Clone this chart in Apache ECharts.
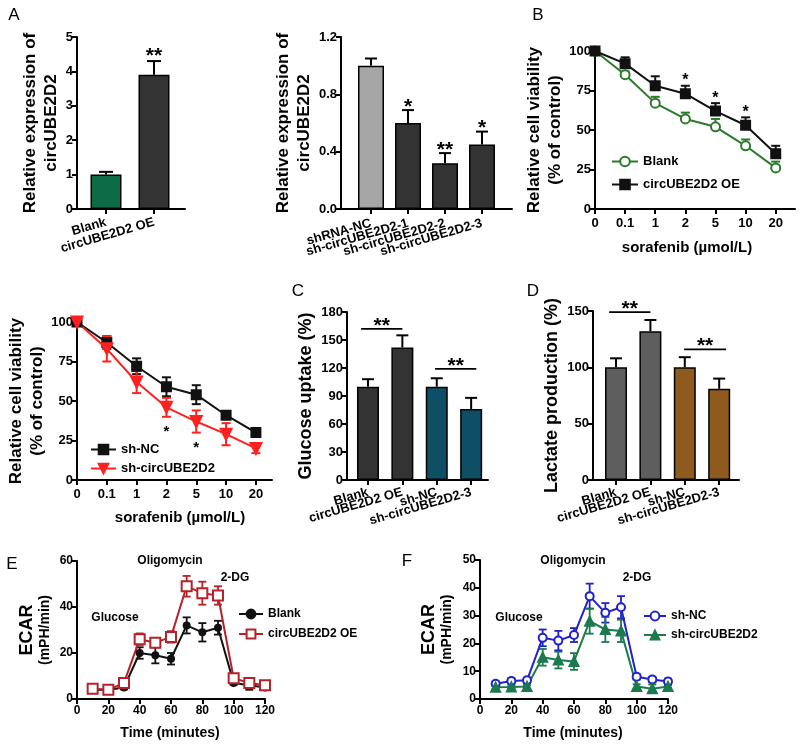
<!DOCTYPE html>
<html><head><meta charset="utf-8">
<script src="https://cdn.jsdelivr.net/npm/echarts@6/dist/echarts.min.js"></script>
<style>html,body{margin:0;padding:0;background:#fff}#c{width:800px;height:746px}</style>
</head><body><div id="c"></div><script>
const FF = '"Liberation Sans", Arial, Helvetica, sans-serif';

// ---------------- data ----------------
const a1Cats = ['Blank', 'circUBE2D2 OE'];
const a1Vals = [1.0, 3.9];
const a1Errs = [0.08, 0.4];
const a1Stars = ['', '**'];
const a1Colors = ['#0e6b47', '#333333'];

const a2Cats = ['shRNA-NC', 'sh-circUBE2D2-1', 'sh-circUBE2D2-2', 'sh-circUBE2D2-3'];
const a2Vals = [1.0, 0.6, 0.32, 0.45];
const a2Errs = [0.05, 0.09, 0.07, 0.09];
const a2Stars = ['', '*', '**', '*'];
const a2Colors = ['#a6a6a6', '#333333', '#333333', '#333333'];

const doses = ['0', '0.1', '1', '2', '5', '10', '20'];
const bBlank = [100, 85, 67, 57, 52, 40, 26];
const bBlankErr = [0, 2, 4, 4, 5, 4, 4];
const bOE = [100, 92, 78, 73, 62, 53, 35];
const bOEErr = [0, 4, 6, 5, 5, 5, 5];
const bStars = ['', '', '', '*', '*', '*', ''];

const b2NC = [100, 87, 72, 59, 54, 41, 30];
const b2NCErr = [0, 4, 5, 6, 6, 2, 2];
const b2Sh = [100, 83, 62, 46, 37, 29, 20];
const b2ShErr = [0, 8, 7, 6, 7, 7, 3];
const b2Stars = ['', '', '', '*', '*', '', ''];

const cdCats = ['Blank', 'circUBE2D2 OE', 'sh-NC', 'sh-circUBE2D2-3'];
const cVals = [100, 142, 100, 76];
const cErrs = [8, 13, 9, 12];
const cColors = ['#333333', '#333333', '#0f4f66', '#0f4f66'];
const cBrackets = [[-0.2, 1.0, 162], [1.95, 3.15, 119]];
const cBracketText = ['**', '**'];
const dVals = [100, 132, 100, 81];
const dErrs = [8, 10, 9, 9];
const dColors = ['#5e5e5e', '#5e5e5e', '#8e5a1e', '#8e5a1e'];
const dBrackets = [[-0.2, 1.0, 149], [1.98, 3.2, 116]];
const dBracketText = ['**', '**'];

const times = [10, 20, 30, 40, 50, 60, 70, 80, 90, 100, 110, 120];
const eBlank = [4, 4, 5, 20, 19, 17.5, 32, 29, 31, 7, 6, 5];
const eBlankErr = [0.5, 0.5, 0.8, 2.5, 3.5, 2.5, 3.5, 4, 3, 0.8, 2, 0.8];
const eOE = [4.5, 4, 7, 26, 24.5, 27, 49, 46, 45, 9, 7, 6];
const eOEErr = [0.8, 0.8, 1, 2.5, 2, 2.5, 4.5, 5, 4, 1, 1.5, 0.8];
const fNC = [5.5, 6.5, 6.7, 22, 21, 23, 37, 31, 33, 8, 7, 6.3];
const fNCErr = [0.8, 1, 1, 3, 3.5, 2.5, 4.5, 3.5, 4, 1, 1, 1];
const fSh = [4.2, 4.3, 4.5, 15, 14, 13.5, 28, 25, 24.5, 4.5, 3.7, 4.5];
const fShErr = [0.5, 0.5, 0.5, 3, 3, 3, 4.5, 4.5, 4, 0.8, 1.5, 0.5];

// ---------------- helpers ----------------
const idx = arr => arr.map((_, i) => i);
const pairs = (xs, ys) => xs.map((x, i) => [x, ys[i]]);
const triples = (xs, ys, es) => xs.map((x, i) => [x, ys[i], es[i]]);

const axLine = { show: true, onZero: false, lineStyle: { color: '#000', width: 2 } };
const tick = (extra) => Object.assign({ show: true, length: 5, lineStyle: { color: '#000', width: 2 } }, extra || {});
const lbl = (fs, extra) => Object.assign({ color: '#000', fontFamily: FF, fontWeight: 'bold', fontSize: fs, margin: 4 }, extra || {});

function yAx(gi, min, max, interval, name, gap, nameFs, fs, extra) {
  return Object.assign({
    type: 'value', gridIndex: gi, min, max, interval,
    name, nameLocation: 'middle', nameGap: gap, nameRotate: 90,
    nameTextStyle: { color: '#000', fontFamily: FF, fontWeight: 'bold', fontSize: nameFs, lineHeight: Math.round(nameFs * 1.22) },
    axisLine: axLine, axisTick: tick(), axisLabel: lbl(fs, { showMinLabel: true, showMaxLabel: true }), splitLine: { show: false }
  }, extra || {});
}
// value axis carrying the bars, line and ticks (labels drawn by a matching category axis)
function xBarAx(gi, min, max, n) {
  return {
    type: 'value', gridIndex: gi, min, max,
    axisLine: axLine, axisTick: tick({ customValues: idx(Array(n).fill(0)) }),
    axisLabel: { show: false }, splitLine: { show: false }
  };
}
// label-only category axis on an invisible grid aligned with bar centres
function xLblAx(gi, cats, rotate, fs, margin) {
  return {
    type: 'category', gridIndex: gi, data: cats, boundaryGap: true,
    axisLine: { show: false }, axisTick: { show: false },
    axisLabel: lbl(fs, { interval: 0, rotate, margin }), splitLine: { show: false }
  };
}
function xNumAx(gi, min, max, interval, fs) {
  return {
    type: 'value', gridIndex: gi, min, max, interval,
    axisLine: axLine, axisTick: tick(), axisLabel: lbl(fs, { margin: 6, showMinLabel: true, showMaxLabel: true }), splitLine: { show: false }
  };
}
function barSeries(gi, vals, colors, width) {
  return {
    type: 'bar', xAxisIndex: gi, yAxisIndex: gi, barWidth: width, silent: true, z: 2,
    data: vals.map((v, i) => ({ value: [i, v], itemStyle: { color: colors[i], borderColor: '#000', borderWidth: 1.5 } }))
  };
}
function errSeries(gi, pts, dir, color, cap, lw, z) {
  return {
    type: 'custom', xAxisIndex: gi, yAxisIndex: gi, silent: true, z: z || 3, data: pts,
    renderItem: (p, api) => {
      const x = api.value(0), v = api.value(1), e = api.value(2);
      if (!e) return null;
      const c = api.coord([x, v]);
      const up = api.coord([x, v + e])[1];
      const dn = api.coord([x, v - e])[1];
      const y1 = dir === 'down' ? c[1] : up;
      const y2 = dir === 'up' ? c[1] : dn;
      const st = { stroke: color, lineWidth: lw };
      const ch = [{ type: 'line', shape: { x1: c[0], y1, x2: c[0], y2 }, style: st }];
      if (dir !== 'down') ch.push({ type: 'line', shape: { x1: c[0] - cap / 2, y1: up, x2: c[0] + cap / 2, y2: up }, style: st });
      if (dir !== 'up') ch.push({ type: 'line', shape: { x1: c[0] - cap / 2, y1: dn, x2: c[0] + cap / 2, y2: dn }, style: st });
      return { type: 'group', children: ch };
    }
  };
}
function starSeries(gi, pts, texts, fs, offset, below) {
  return {
    type: 'custom', xAxisIndex: gi, yAxisIndex: gi, silent: true, z: 5, data: pts,
    renderItem: (p, api) => {
      const t = texts[p.dataIndex];
      if (!t) return null;
      const c = api.coord([api.value(0), api.value(1)]);
      const yc = below ? c[1] + offset : c[1] - offset;
      return { type: 'text', x: c[0], y: yc + 0.27 * fs,
        style: { text: t, fill: '#000', fontFamily: FF, fontWeight: 'bold', fontSize: fs, align: 'center', verticalAlign: 'middle' } };
    }
  };
}
function bracketSeries(gi, br, texts, fs, offset) {
  return {
    type: 'custom', xAxisIndex: gi, yAxisIndex: gi, silent: true, z: 5, data: br,
    renderItem: (p, api) => {
      const a = api.coord([api.value(0), api.value(2)]);
      const b = api.coord([api.value(1), api.value(2)]);
      return { type: 'group', children: [
        { type: 'line', shape: { x1: a[0], y1: a[1], x2: b[0], y2: b[1] }, style: { stroke: '#000', lineWidth: 1.8 } },
        { type: 'text', x: (a[0] + b[0]) / 2, y: a[1] - offset + 0.27 * fs,
          style: { text: texts[p.dataIndex], fill: '#000', fontFamily: FF, fontWeight: 'bold', fontSize: fs, align: 'center', verticalAlign: 'middle' } }
      ] };
    }
  };
}
function lineSeries(gi, name, pts, color, symbol, size, extra) {
  return Object.assign({
    type: 'line', name, xAxisIndex: gi, yAxisIndex: gi, data: pts, z: 4,
    symbol, symbolSize: size, showAllSymbol: true,
    lineStyle: { color, width: 2 }, itemStyle: { color, borderColor: color, borderWidth: 2 }
  }, extra || {});
}
function legend(left, top, names, fs, iw, ih, gap) {
  return {
    left, top, orient: 'vertical', itemWidth: iw, itemHeight: ih, itemGap: gap, selectedMode: false,
    data: names, formatter: n => n.replace(/ #.*$/, ''),
    textStyle: { color: '#000', fontFamily: FF, fontWeight: 'bold', fontSize: fs }
  };
}
const txt = (x, y, text, fs, bold, align) => ({
  type: 'text', x, y, silent: true,
  style: { text, fill: '#000', fontFamily: FF, fontWeight: bold ? 'bold' : 'normal', fontSize: fs, align: align || 'center', verticalAlign: 'middle' }
});

// ---------------- layout ----------------
const grids = [
  { left: 77, top: 37, width: 108, height: 172 },   // 0 A1
  { left: 341, top: 37, width: 171, height: 172 },  // 1 A2
  { left: 595, top: 51, width: 200, height: 158 },  // 2 B
  { left: 77, top: 322, width: 195, height: 158 },  // 3 B2
  { left: 347, top: 312, width: 141, height: 168 }, // 4 C
  { left: 593, top: 311, width: 146, height: 169 }, // 5 D
  { left: 77, top: 561, width: 188, height: 138 },  // 6 E
  { left: 480, top: 560, width: 188, height: 139 }  // 7 F
];
// bar-panel x ranges (axis min/max in bar-index units)
const barRanges = { 0: [-0.604, 1.646], 1: [-0.811, 3.811], 4: [-0.61, 3.49], 5: [-0.669, 3.576] };
const barCats = { 0: a1Cats, 1: a2Cats, 4: cdCats, 5: cdCats };
// label grids 8..11, aligned so category band centres fall on the bars
[0, 1, 4, 5].forEach(gi => {
  const g = grids[gi], [mn, mx] = barRanges[gi], n = barCats[gi].length;
  const unit = g.width / (mx - mn);
  const c0 = g.left + (0 - mn) * unit;
  grids.push({ left: c0 - unit / 2, top: g.top, width: unit * n, height: g.height });
});

const ecarName = '{a|ECAR}\n{b|(mPH/min)}';
const ecarRich = { a: { fontSize: 18, fontWeight: 'bold', fontFamily: FF, color: '#000', lineHeight: 19 },
                   b: { fontSize: 14, fontWeight: 'bold', fontFamily: FF, color: '#000', lineHeight: 17 } };

const xAxis = [
  xBarAx(0, barRanges[0][0], barRanges[0][1], a1Cats.length),
  xBarAx(1, barRanges[1][0], barRanges[1][1], a2Cats.length),
  { type: 'value', gridIndex: 2, min: 0, max: 6.64, axisLine: axLine, axisTick: tick({ customValues: idx(doses) }),
    axisLabel: lbl(13, { customValues: idx(doses), margin: 8, formatter: v => doses[Math.round(v)] }), splitLine: { show: false } },
  { type: 'value', gridIndex: 3, min: 0, max: 6.54, axisLine: axLine, axisTick: tick({ customValues: idx(doses) }),
    axisLabel: lbl(13, { customValues: idx(doses), margin: 8, formatter: v => doses[Math.round(v)] }), splitLine: { show: false } },
  xBarAx(4, barRanges[4][0], barRanges[4][1], cdCats.length),
  xBarAx(5, barRanges[5][0], barRanges[5][1], cdCats.length),
  xNumAx(6, 0, 120, 20, 12),
  xNumAx(7, 0, 120, 20, 12),
  xLblAx(8, a1Cats, 16, 13, 13),
  xLblAx(9, a2Cats, 16, 13, 14),
  xLblAx(10, cdCats, 16, 13, 12),
  xLblAx(11, cdCats, 16, 13, 12)
];
const yAxis = [
  yAx(0, 0, 5, 1, 'Relative expression of\ncircUBE2D2', 12, 17, 13),
  yAx(1, 0, 1.2, 0.4, 'Relative expression of\ncircUBE2D2', 25, 17, 13, { axisLabel: lbl(13, { formatter: v => v.toFixed(1) }) }),
  yAx(2, 0, 100, 25, 'Relative cell viability\n(% of control)', 20, 17, 13),
  yAx(3, 0, 100, 25, 'Relative cell viability\n(% of control)', 28, 17, 13),
  yAx(4, 0, 180, 30, 'Glucose uptake (%)', 30, 18, 13),
  yAx(5, 0, 150, 50, 'Lactate production (%)', 28, 18, 13),
  yAx(6, 0, 60, 20, ecarName, 23, 14, 12),
  yAx(7, 0, 50, 10, ecarName, 24, 14, 12),
  { type: 'value', gridIndex: 8, show: false },
  { type: 'value', gridIndex: 9, show: false },
  { type: 'value', gridIndex: 10, show: false },
  { type: 'value', gridIndex: 11, show: false }
];
yAxis[6].nameTextStyle.rich = ecarRich;
yAxis[7].nameTextStyle.rich = ecarRich;

const series = [
  // A1
  errSeries(0, triples(idx(a1Vals), a1Vals, a1Errs), 'up', '#000', 14, 2),
  barSeries(0, a1Vals, a1Colors, 31),
  starSeries(0, pairs(idx(a1Vals), a1Vals.map((v, i) => v + a1Errs[i])), a1Stars, 21, 11),
  // A2
  errSeries(1, triples(idx(a2Vals), a2Vals, a2Errs), 'up', '#000', 12, 2),
  barSeries(1, a2Vals, a2Colors, 26),
  starSeries(1, pairs(idx(a2Vals), a2Vals.map((v, i) => v + a2Errs[i])), a2Stars, 21, 9),
  // B
  errSeries(2, triples(idx(bBlank), bBlank, bBlankErr), 'up', '#2b7a2b', 9, 2),
  errSeries(2, triples(idx(bOE), bOE, bOEErr), 'up', '#111', 9, 2),
  lineSeries(2, 'Blank #B', pairs(idx(bBlank), bBlank), '#2b7a2b', 'emptyCircle', 9),
  lineSeries(2, 'circUBE2D2 OE #B', pairs(idx(bOE), bOE), '#111', 'rect', 9),
  starSeries(2, pairs(idx(bOE), bOE.map((v, i) => v + bOEErr[i])), bStars, 16, 9),
  // B2
  errSeries(3, triples(idx(b2NC), b2NC, b2NCErr), 'both', '#111', 9, 2),
  errSeries(3, triples(idx(b2Sh), b2Sh, b2ShErr), 'both', '#ff2020', 9, 2),
  lineSeries(3, 'sh-NC #B2', pairs(idx(b2NC), b2NC), '#111', 'rect', 9),
  lineSeries(3, 'sh-circUBE2D2 #B2', pairs(idx(b2Sh), b2Sh), '#ff2020', 'triangle', 11, { symbolRotate: 180 }),
  starSeries(3, pairs(idx(b2Sh), b2Sh.map((v, i) => v - b2ShErr[i])), b2Stars, 15, 11, true),
  // C
  errSeries(4, triples(idx(cVals), cVals, cErrs), 'up', '#000', 12, 2),
  barSeries(4, cVals, cColors, 22),
  bracketSeries(4, cBrackets, cBracketText, 21, 8),
  // D
  errSeries(5, triples(idx(dVals), dVals, dErrs), 'up', '#000', 12, 2),
  barSeries(5, dVals, dColors, 22),
  bracketSeries(5, dBrackets, dBracketText, 21, 9),
  // E
  errSeries(6, triples(times, eBlank, eBlankErr), 'both', '#111', 8, 1.8),
  errSeries(6, triples(times, eOE, eOEErr), 'both', '#b5222a', 8, 1.8),
  lineSeries(6, 'Blank #E', pairs(times, eBlank), '#111', 'circle', 6),
  lineSeries(6, 'circUBE2D2 OE #E', pairs(times, eOE), '#b5222a', 'emptyRect', 10, { itemStyle: { color: '#b5222a', borderColor: '#b5222a', borderWidth: 1.5 } }),
  // F
  errSeries(7, triples(times, fNC, fNCErr), 'both', '#2222cc', 8, 1.8),
  errSeries(7, triples(times, fSh, fShErr), 'both', '#1b7a4e', 8, 1.8),
  lineSeries(7, 'sh-NC #F', pairs(times, fNC), '#2222cc', 'emptyCircle', 8),
  lineSeries(7, 'sh-circUBE2D2 #F', pairs(times, fSh), '#1b7a4e', 'triangle', 9)
];

const graphic = [
  txt(14, 15, 'A', 17), txt(538, 15, 'B', 17), txt(298, 291, 'C', 17), txt(533, 291, 'D', 17),
  txt(12, 564, 'E', 17), txt(407, 561, 'F', 17),
  txt(687, 248, 'sorafenib (µmol/L)', 15, true),
  txt(180, 518, 'sorafenib (µmol/L)', 15, true),
  txt(170, 733, 'Time (minutes)', 14, true),
  txt(573, 733, 'Time (minutes)', 14, true),
  txt(170, 561, 'Oligomycin', 12, true), txt(235, 578, '2-DG', 12, true), txt(115, 618, 'Glucose', 12, true),
  txt(573, 561, 'Oligomycin', 12, true), txt(637, 578, '2-DG', 12, true), txt(519, 618, 'Glucose', 12, true)
];

const chart = echarts.init(document.getElementById('c'), null, { renderer: 'canvas' });
chart.setOption({
  backgroundColor: '#fff',
  animation: false,
  grid: grids,
  xAxis, yAxis, series, graphic,
  legend: [
    legend(606, 150, ['Blank #B', 'circUBE2D2 OE #B'], 13, 26, 12, 10),
    legend(85, 438, ['sh-NC #B2', 'sh-circUBE2D2 #B2'], 13, 25, 12, 6),
    legend(233, 603, ['Blank #E', 'circUBE2D2 OE #E'], 12, 24, 11, 8),
    legend(638, 605, ['sh-NC #F', 'sh-circUBE2D2 #F'], 12, 22, 11, 7)
  ]
});
</script></body></html>
